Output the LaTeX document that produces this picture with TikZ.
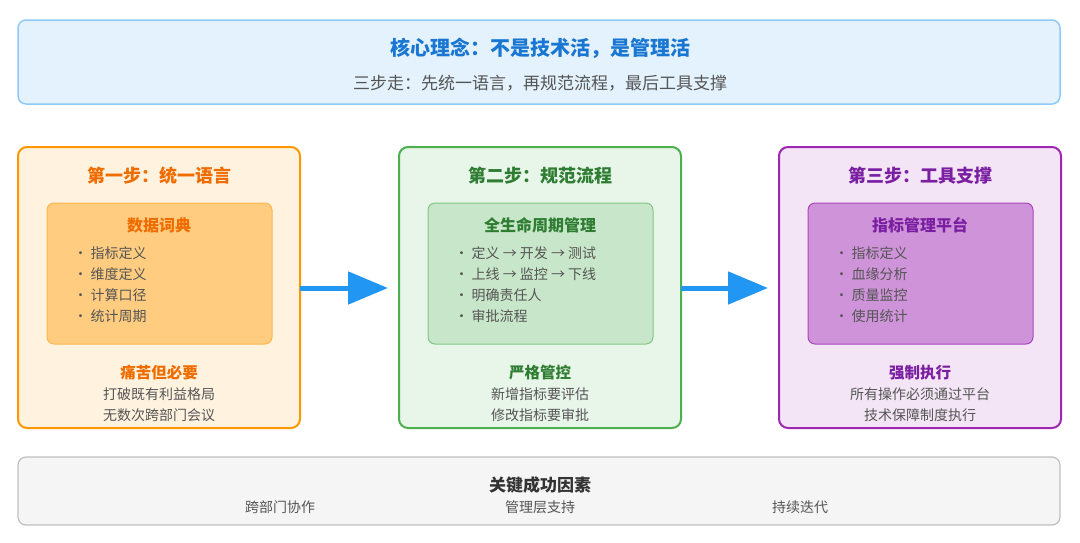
\documentclass[tikz,border=0pt]{standalone}
\usepackage{fontspec}
\setmainfont{Noto Sans CJK SC}
\usetikzlibrary{arrows.meta}
\definecolor{oB}{HTML}{FF9800}\definecolor{oF}{HTML}{FFF3E0}\definecolor{oI}{HTML}{FFCC80}\definecolor{oIB}{HTML}{FFB74D}\definecolor{oT}{HTML}{EF6C00}
\definecolor{gB}{HTML}{4CAF50}\definecolor{gF}{HTML}{E8F5E9}\definecolor{gI}{HTML}{C8E6C9}\definecolor{gIB}{HTML}{81C784}\definecolor{gT}{HTML}{2E7D32}
\definecolor{pB}{HTML}{9C27B0}\definecolor{pF}{HTML}{F3E5F5}\definecolor{pI}{HTML}{CE93D8}\definecolor{pIB}{HTML}{AB47BC}\definecolor{pT}{HTML}{7B1FA2}
\definecolor{bF}{HTML}{E3F2FD}\definecolor{bB}{HTML}{90CAF9}\definecolor{bT}{HTML}{1976D2}
\definecolor{txt}{HTML}{555555}\definecolor{arr}{HTML}{2196F3}
\tikzset{
 panel/.style={rounded corners=9pt,line width=2pt},
 inner/.style={rounded corners=7pt,line width=1pt},
 ptitle/.style={font=\fontsize{18}{20}\selectfont\bfseries},
 ititle/.style={font=\fontsize{16}{18}\selectfont\bfseries},
 bul/.style={font=\fontsize{14}{21}\selectfont,text=txt,align=left,anchor=north west},
 foot/.style={font=\fontsize{14}{21}\selectfont,text=txt,align=center},
 ftitle/.style={font=\fontsize{15.5}{18}\selectfont\bfseries},
 bigarrow/.style={line width=5pt,arr,-{Triangle[length=40pt,width=32pt]}}
}
\begin{document}
\begin{tikzpicture}[x=1pt,y=-1pt]
\useasboundingbox (0,0) rectangle (1080,542);
% top
\draw[rounded corners=8pt,line width=1.5pt,draw=bB,fill=bF] (18,20) rectangle (1060,104);
\node[text=bT,font=\fontsize{20}{22}\selectfont\bfseries] (t1) at (540,48) {核心理念：不是技术活，是管理活};
\node[text=txt,font=\fontsize{17}{19}\selectfont] (t2) at (540,83) {三步走：先统一语言，再规范流程，最后工具支撑};
% panels
\newcommand\mypanel[9]{%
 \draw[panel,draw=#2,fill=#3] (#1,147) rectangle ++(282,281);
 \draw[inner,draw=#5,fill=#4] (#1+29,203) rectangle ++(225,141);
 \node[ptitle,text=#6] at (#1+141,176) {#7};
 \node[ititle,text=#6] at (#1+141,225) {#8};
 #9}
\mypanel{18}{oB}{oF}{oI}{oIB}{oT}{第一步：统一语言}{数据词典}{%
 \node[bul] (b1) at (70,243) {• 指标定义\\• 维度定义\\• 计算口径\\• 统计周期};
 \node[ftitle,text=oT] (f1) at (159,373) {痛苦但必要};
 \node[foot] (g1) at (159,405) {打破既有利益格局\\无数次跨部门会议};}
\mypanel{399}{gB}{gF}{gI}{gIB}{gT}{第二步：规范流程}{全生命周期管理}{%
 \node[bul] (b2) at (451,243) {• 定义 → 开发 → 测试\\• 上线 → 监控 → 下线\\• 明确责任人\\• 审批流程};
 \node[ftitle,text=gT] (f2) at (540,373) {严格管控};
 \node[foot] (g2) at (540,405) {新增指标要评估\\修改指标要审批};}
\mypanel{779}{pB}{pF}{pI}{pIB}{pT}{第三步：工具支撑}{指标管理平台}{%
 \node[bul] (b3) at (831,243) {• 指标定义\\• 血缘分析\\• 质量监控\\• 使用统计};
 \node[ftitle,text=pT] (f3) at (920,373) {强制执行};
 \node[foot] (g3) at (920,405) {所有操作必须通过平台\\技术保障制度执行};}
\coordinate (a1) at (300,288); \coordinate (a2) at (388,288);
\coordinate (a3) at (681,288); \coordinate (a4) at (768,288);
\draw[bigarrow] (a1) -- (a2);
\draw[bigarrow] (a3) -- (a4);
% bottom
\draw[rounded corners=8pt,line width=1.2pt,draw=black!25,fill=black!4] (18,457) rectangle (1060,525);
\node[text=black!80,font=\fontsize{17}{19}\selectfont\bfseries] (k) at (540,485) {关键成功因素};
\node[foot] (k1) at (280,507) {跨部门协作};
\node[foot] (k2) at (540,507) {管理层支持};
\node[foot] (k3) at (800,507) {持续迭代};
\end{tikzpicture}
\end{document}
